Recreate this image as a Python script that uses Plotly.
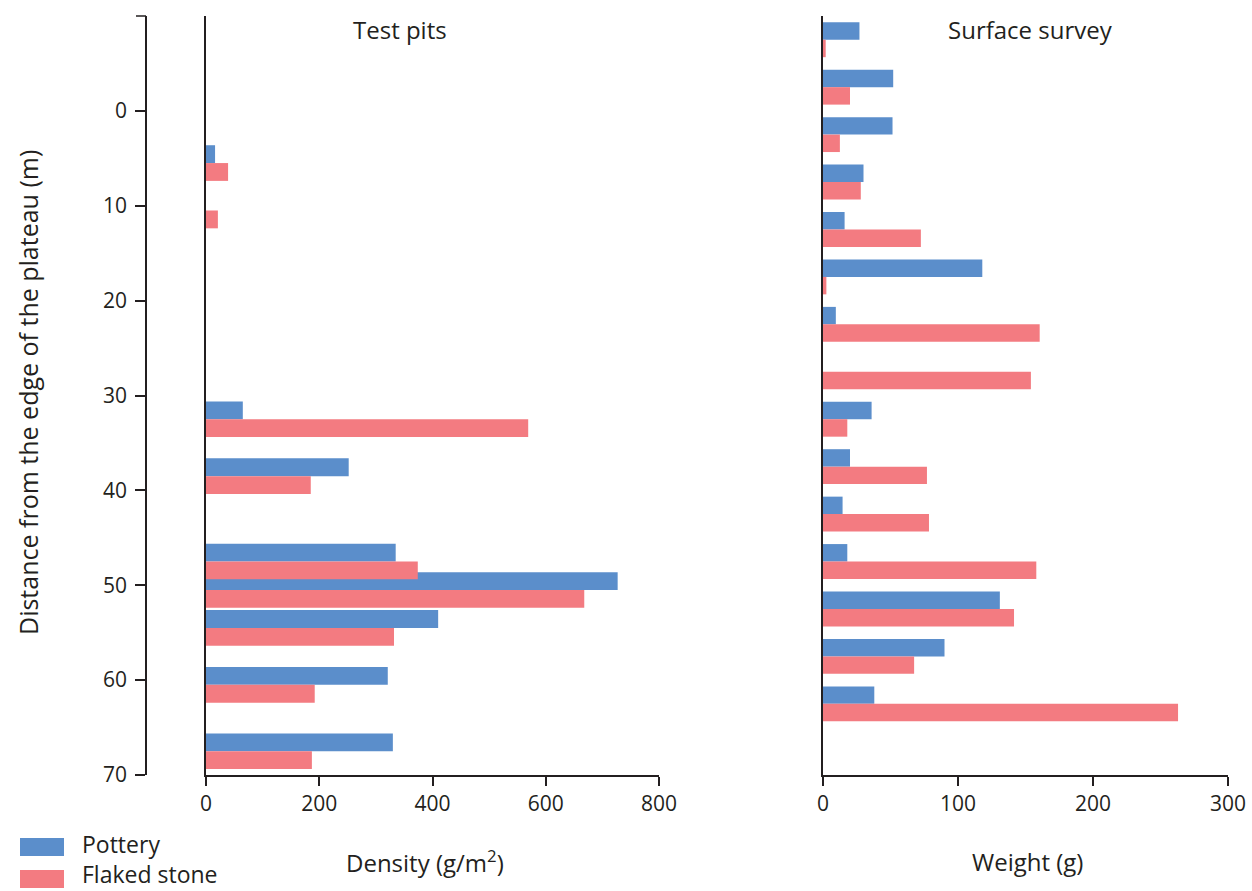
import plotly.graph_objects as go

W, H = 1252, 891

# Test pits: centre of each pit pair (m from plateau edge) and density (g/m²)
pit_distance = [5.5, 10.5, 32.5, 38.5, 47.5, 50.5, 54.5, 60.5, 67.5]
pit_pottery = [16, 0, 65, 252, 335, 727, 410, 321, 330]
pit_flaked = [39, 21, 569, 185, 374, 668, 332, 192, 187]

# Surface survey: centre of each 5 m band and weight (g)
survey_distance = [-7.5, -2.5, 2.5, 7.5, 12.5, 17.5, 22.5, 27.5,
                   32.5, 37.5, 42.5, 47.5, 52.5, 57.5, 62.5]
survey_pottery = [27, 52, 51.5, 30, 16, 118, 9.5, 0,
                  36, 20, 14.5, 18, 131, 90, 38]
survey_flaked = [2, 20, 12.5, 28, 72.5, 2.5, 160.5, 154,
                 18, 77, 78.5, 158, 141.5, 67.5, 263]

distance_ticks = [0, 10, 20, 30, 40, 50, 60, 70]
density_ticks = [0, 200, 400, 600, 800]
weight_ticks = [0, 100, 200, 300]

BLUE = "#5b8ecb"
PINK = "#f37b81"
INK = "#231f20"
FONT = "Open Sans"


def px(x):
    return x / W


def py(y):
    return 1 - y / H


BAR_W_PIT = 1.88
BAR_W_SURVEY = 1.84

fig = go.Figure()

# Test pits panel
fig.add_trace(go.Bar(y=pit_distance, x=pit_pottery, orientation="h",
                     width=BAR_W_PIT, offset=-BAR_W_PIT, marker_color=BLUE,
                     marker_line_width=0, name="Pottery",
                     xaxis="x", yaxis="y", showlegend=False))
fig.add_trace(go.Bar(y=pit_distance, x=pit_flaked, orientation="h",
                     width=BAR_W_PIT, offset=0, marker_color=PINK,
                     marker_line_width=0, name="Flaked stone",
                     xaxis="x", yaxis="y", showlegend=False))

# Surface survey panel
fig.add_trace(go.Bar(y=survey_distance, x=survey_pottery, orientation="h",
                     width=BAR_W_SURVEY, offset=-BAR_W_SURVEY, marker_color=BLUE,
                     marker_line_width=0, name="Pottery",
                     xaxis="x2", yaxis="y2", showlegend=False))
fig.add_trace(go.Bar(y=survey_distance, x=survey_flaked, orientation="h",
                     width=BAR_W_SURVEY, offset=0, marker_color=PINK,
                     marker_line_width=0, name="Flaked stone",
                     xaxis="x2", yaxis="y2", showlegend=False))

# carrier for the shared distance axis on the far left
fig.add_trace(go.Scatter(x=[0], y=[0], mode="markers", marker=dict(opacity=0),
                         hoverinfo="skip", showlegend=False,
                         xaxis="x", yaxis="y3"))

Y_TOP, Y_BOT = 16, 775
ydom = [py(Y_BOT), py(Y_TOP)]
yrange = [70, -10]
AXIS_X = 146

axis_common = dict(showgrid=False, zeroline=False, linecolor=INK, linewidth=1.5,
                   tickcolor=INK, tickwidth=1.5, automargin=False,
                   tickfont=dict(family=FONT, size=21, color=INK))

fig.update_layout(
    width=W, height=H,
    autosize=False,
    showlegend=False,
    margin=dict(l=0, r=0, t=0, b=0, pad=0),
    paper_bgcolor="white", plot_bgcolor="white",
    barmode="overlay",
    font=dict(family=FONT, color=INK),
    xaxis=dict(domain=[px(206), px(659)], range=[0, 800], anchor="y",
               showline=True, ticks="outside", ticklen=9,
               tickvals=density_ticks, **axis_common),
    yaxis=dict(domain=ydom, range=yrange, anchor="x", showline=True,
               ticks="", showticklabels=False, **axis_common),
    yaxis3=dict(domain=ydom, range=yrange, overlaying="y", anchor="free",
                position=px(AXIS_X), side="left", showline=True,
                ticks="outside", ticklen=10, tickvals=distance_ticks,
                ticklabelstandoff=4, **axis_common),
    xaxis2=dict(domain=[px(823), px(1228)], range=[0, 300], anchor="y2",
                showline=True, ticks="outside", ticklen=9,
                tickvals=weight_ticks, **axis_common),
    yaxis2=dict(domain=ydom, range=yrange, anchor="x2", showline=True,
                ticks="", showticklabels=False, **axis_common),
)

ann = []


def label(text, x, y, size=24, xanchor="center", angle=0):
    ann.append(dict(text=text, x=px(x), y=py(y), xref="paper", yref="paper",
                    xanchor=xanchor, yanchor="middle", showarrow=False,
                    textangle=angle, font=dict(family=FONT, size=size, color=INK)))


label("Test pits", 400, 30)
label("Surface survey", 1030, 30)
label("Density (g/m<sup>2</sup>)", 425, 861)
label("Weight (g)", 1027, 861)
label("Distance from the edge of the plateau (m)", 28, 393, size=25, angle=-90)

shapes = []
# end cap at the top of the distance axis
shapes.append(dict(type="line", xref="paper", yref="paper",
                   x0=px(AXIS_X - 10), x1=px(AXIS_X), y0=py(Y_TOP), y1=py(Y_TOP),
                   line=dict(color=INK, width=1.5)))

# legend
for (y0, y1, color, text, ty) in [(838, 856, BLUE, "Pottery", 844),
                                  (870, 888, PINK, "Flaked stone", 874)]:
    shapes.append(dict(type="rect", xref="paper", yref="paper",
                       x0=px(20), x1=px(64), y0=py(y1), y1=py(y0),
                       fillcolor=color, line=dict(width=0)))
    label(text, 80, ty, size=23, xanchor="left")

fig.update_layout(annotations=ann, shapes=shapes)

fig.write_html("out.html")
